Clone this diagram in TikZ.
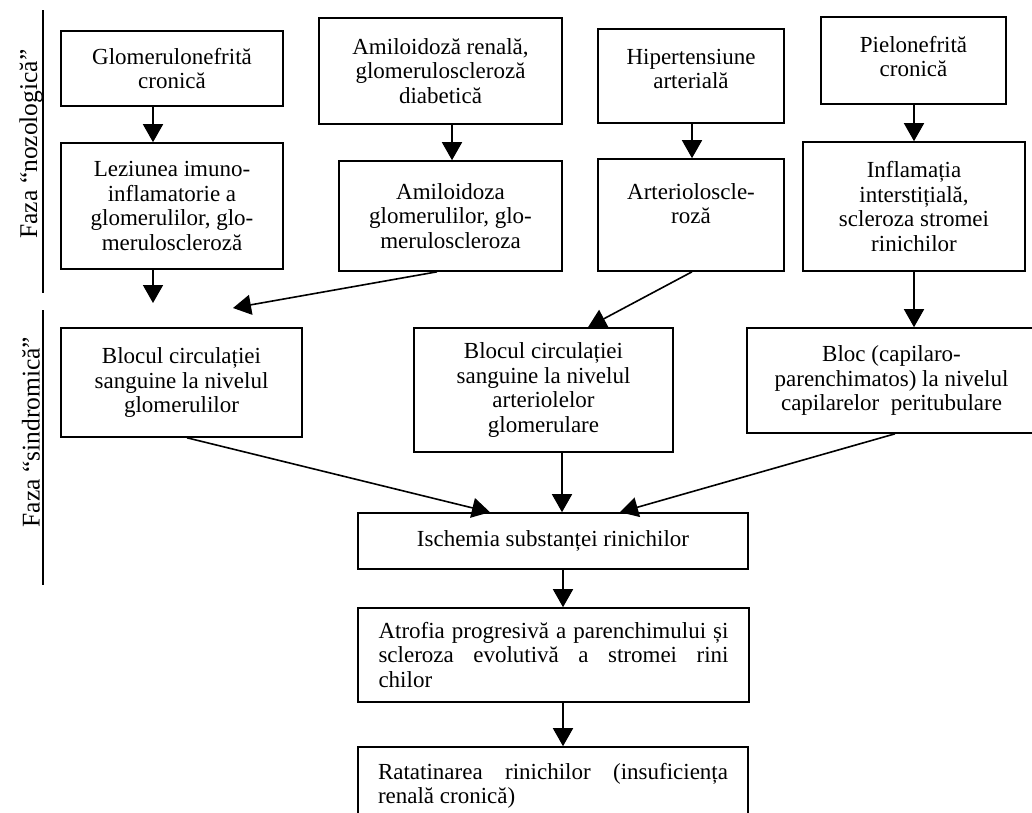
\documentclass[tikz,border=0pt]{standalone}
\usepackage{fontspec}
\setmainfont{Liberation Serif}
\usetikzlibrary{arrows.meta}

\begin{document}
\begin{tikzpicture}[x=1pt,y=-1pt,line width=1.6pt,
  bloc/.style={draw,align=center,inner sep=0pt,font=\fontsize{23}{24.5}\selectfont},
  sageata/.style={-{Triangle[width=20pt,length=18pt]}},
  faza/.style={rotate=90,font=\fontsize{25.5}{26}\selectfont}]
  \path[fill=white,use as bounding box] (0,0) rectangle (1032,812);
  % etichetele fazelor
  \node[faza] (fnoz) at (31,144) {Faza “nozologică”};
  \node[faza] (fsin) at (31,432) {Faza “sindromică”};
  \draw (43,10) -- (43,293);
  \draw (43,310) -- (43,585);

  % faza nozologica
  \node[bloc,minimum width=222pt,minimum height=75pt] (A1) at (172,68.5) {Glomerulonefrită\\cronică};
  \node[bloc,minimum width=222pt,minimum height=126pt] (A2) at (172,206) {Leziunea imuno-\\inflamatorie a\\glomerulilor, glo-\\meruloscleroză};
  \node[bloc,minimum width=243pt,minimum height=106pt] (B1) at (440.5,71) {Amiloidoză renală,\\glomeruloscleroză\\diabetică};
  \node[bloc,minimum width=223pt,minimum height=110pt] (B2) at (450.5,216) {Amiloidoza\\glomerulilor, glo-\\meruloscleroza};
  \node[bloc,minimum width=186pt,minimum height=94pt,text depth=14pt] (C1) at (691,76) {Hipertensiune\\arterială};
  \node[bloc,minimum width=186pt,minimum height=112pt,text depth=23pt] (C2) at (691,215) {Arterioloscle-\\roză};
  \node[bloc,minimum width=185pt,minimum height=87pt,text depth=8pt] (D1) at (913.5,60.5) {Pielonefrită\\cronică};
  \node[bloc,minimum width=222pt,minimum height=129pt] (D2) at (914,206.5) {Inflamația\\interstițială,\\scleroza stromei\\rinichilor};

  % faza sindromica
  \node[bloc,minimum width=241pt,minimum height=109pt] (E1) at (181.5,382.5) {Blocul circulației\\sanguine la nivelul\\glomerulilor};
  \node[bloc,minimum width=259pt,minimum height=124pt] (E2) at (543.5,390) {Blocul circulației\\sanguine la nivelul\\arteriolelor\\glomerulare};
  \node[bloc,minimum width=289pt,minimum height=105pt] (E3) at (891.5,380.5) {Bloc (capilaro-\\parenchimatos) la nivelul\\capilarelor\ \ peritubulare};
  \node[bloc,minimum width=390pt,minimum height=56pt] (F) at (553,541) {Ischemia substanței rinichilor};
  \node[bloc,minimum width=391pt,minimum height=94pt,text width=350pt,align=justify] (G) at (553.5,655)
    {Atrofia progresivă a parenchimului și\linebreak scleroza evolutivă a stromei rini\linebreak chilor};
  \node[bloc,minimum width=390pt,minimum height=78pt,text width=350pt,align=justify] (H) at (553,786)
    {Ratatinarea rinichilor (insuficiența\linebreak renală cronică)};

  % capete libere ale sagetilor
  \coordinate (a2jos) at (153,303);
  \coordinate (b2jos) at (233,308);

  \draw[sageata] (A1.south -| 153,0) -- (A2.north -| 153,0);
  \draw[sageata] (B1.south -| 452,0) -- (B2.north -| 452,0);
  \draw[sageata] (C1.south -| 692,0) -- (C2.north -| 692,0);
  \draw[sageata] (D1.south -| 914,0) -- (D2.north -| 914,0);
  \draw[sageata] (A2.south -| 153,0) -- (a2jos);
  \draw[sageata] (B2.south -| 437,0) -- (b2jos);
  \draw[sageata] (C2.south -| 692,0) -- (E2.north -| 588,0);
  \draw[sageata] (D2.south -| 914,0) -- (E3.north -| 914,0);
  \draw[sageata] (E1.south -| 187,0) -- (F.north -| 490,0);
  \draw[sageata] (E2.south -| 562,0) -- (F.north -| 562,0);
  \draw[sageata] (E3.south -| 895,0) -- (F.north -| 620,0);
  \draw[sageata] (F.south -| 563,0) -- (G.north -| 563,0);
  \draw[sageata] (G.south -| 563,0) -- (H.north -| 563,0);
\end{tikzpicture}
\end{document}
